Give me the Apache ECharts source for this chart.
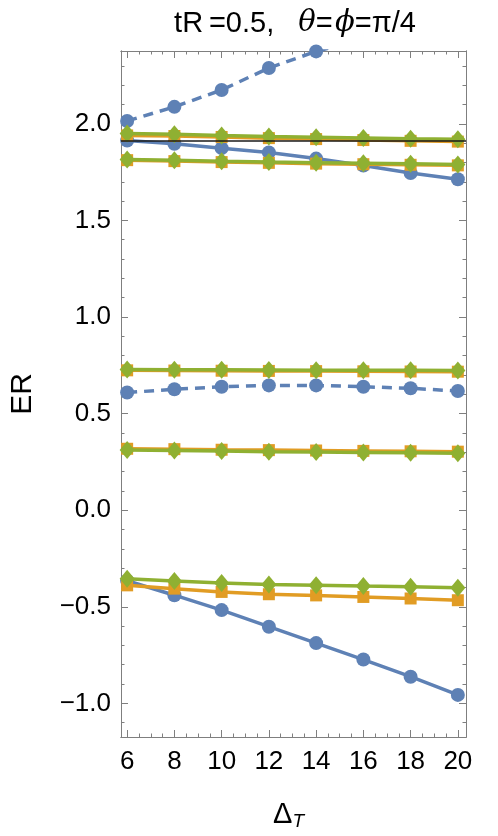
<!DOCTYPE html>
<html>
<head>
<meta charset="utf-8">
<script src="https://cdn.jsdelivr.net/npm/echarts@6/dist/echarts.min.js"></script>
<style>
html,body{margin:0;padding:0;background:#fff;}
#chart{width:498px;height:836px;}
</style>
</head>
<body>
<div id="chart"></div>
<script>
// ---- data ----
const deltaT = [6, 8, 10, 12, 14, 16, 18, 20];

const blueDashedTop   = [2.015, 2.088, 2.175, 2.289, 2.375, 2.44, 2.50, 2.57];
const blueSolidUpper  = [1.914, 1.897, 1.874, 1.852, 1.820, 1.784, 1.745, 1.713];
const blueDashedMid   = [0.609, 0.626, 0.639, 0.646, 0.646, 0.639, 0.631, 0.617];
const blueSolidLower  = [-0.365, -0.440, -0.517, -0.603, -0.688, -0.773, -0.862, -0.956];

const orangeTop       = [1.940, 1.937, 1.932, 1.926, 1.921, 1.916, 1.912, 1.908];
const orangeUpper     = [1.812, 1.807, 1.802, 1.798, 1.794, 1.791, 1.788, 1.785];
const orangeMidHigh   = [0.724, 0.723, 0.722, 0.721, 0.720, 0.719, 0.718, 0.717];
const orangeMidLow    = [0.318, 0.316, 0.313, 0.311, 0.309, 0.307, 0.305, 0.303];
const orangeLower     = [-0.389, -0.406, -0.423, -0.435, -0.441, -0.449, -0.457, -0.466];

const greenTop        = [1.950, 1.946, 1.940, 1.935, 1.931, 1.927, 1.923, 1.920];
const greenUpper      = [1.815, 1.811, 1.806, 1.802, 1.799, 1.796, 1.793, 1.790];
const greenMidHigh    = [0.728, 0.727, 0.727, 0.726, 0.725, 0.724, 0.724, 0.723];
const greenMidLow     = [0.312, 0.309, 0.306, 0.303, 0.301, 0.299, 0.297, 0.295];
const greenLower      = [-0.355, -0.367, -0.377, -0.385, -0.389, -0.393, -0.396, -0.401];

const referenceLevel  = 1.905;

const xTickLabels     = [6, 8, 10, 12, 14, 16, 18, 20];
const xMinorTicks     = [6.5, 7, 7.5, 8.5, 9, 9.5, 10.5, 11, 11.5, 12.5, 13, 13.5, 14.5, 15, 15.5, 16.5, 17, 17.5, 18.5, 19, 19.5];
const yTickLabels     = [-1.0, -0.5, 0.0, 0.5, 1.0, 1.5, 2.0];
const yMinorTicks     = [-1.1, -0.9, -0.8, -0.7, -0.6, -0.4, -0.3, -0.2, -0.1,
                         0.1, 0.2, 0.3, 0.4, 0.6, 0.7, 0.8, 0.9,
                         1.1, 1.2, 1.3, 1.4, 1.6, 1.7, 1.8, 1.9, 2.1, 2.2, 2.3];

// ---- style ----
const BLUE = '#5E81B5', ORANGE = '#E19C24', GREEN = '#8FB032';
const FRAME = '#7f7f7f';
const FONT = '"Liberation Sans", Arial, sans-serif';
const X_MIN = 5.74, X_MAX = 20.345, Y_MIN = -1.174, Y_MAX = 2.377;

function pairs(ys) { return deltaT.map((x, i) => [x, ys[i]]); }

function mk(data, color, symbol, size, z, dashed) {
  return {
    type: 'line',
    data: pairs(data),
    z: z,
    symbol: symbol,
    symbolSize: size,
    showAllSymbol: true,
    clip: true,
    itemStyle: { color: color },
    lineStyle: { color: color, width: 3.5, type: dashed ? [10, 7] : 'solid' },
    emphasis: { disabled: true },
    animation: false
  };
}

function yFmt(v) {
  return (v < 0 ? '\u2212' : '') + Math.abs(v).toFixed(1);
}

function xAx(pos, ticks, len, labels) {
  return {
    type: 'value', position: pos, min: X_MIN, max: X_MAX,
    axisLine: { show: true, onZero: false, lineStyle: { color: FRAME, width: 1 } },
    axisTick: { show: true, inside: true, length: len, customValues: ticks, lineStyle: { color: FRAME, width: 1 } },
    axisLabel: labels ? { show: true, customValues: ticks, formatter: v => String(v), color: '#000', fontSize: 26, fontFamily: FONT, margin: 12 } : { show: false },
    splitLine: { show: false }
  };
}
function yAx(pos, ticks, len, labels) {
  return {
    type: 'value', position: pos, min: Y_MIN, max: Y_MAX,
    axisLine: { show: true, onZero: false, lineStyle: { color: FRAME, width: 1 } },
    axisTick: { show: true, inside: true, length: len, customValues: ticks, lineStyle: { color: FRAME, width: 1 } },
    axisLabel: labels ? { show: true, customValues: ticks, formatter: yFmt, color: '#000', fontSize: 26, fontFamily: FONT, margin: 10 } : { show: false },
    splitLine: { show: false }
  };
}

const xAxes = [xAx('bottom', xTickLabels, 7, true), xAx('bottom', xMinorTicks, 3.5, false),
               xAx('top', xTickLabels, 7, false), xAx('top', xMinorTicks, 3.5, false)];
xAxes[0].name = '{d|\u0394}{t|T}';
xAxes[0].nameLocation = 'middle';
xAxes[0].nameGap = 61;
xAxes[0].nameTextStyle = {
  rich: {
    d: { fontSize: 29, fontFamily: FONT, color: '#000' },
    t: { fontSize: 19, fontFamily: FONT, fontStyle: 'italic', color: '#000', padding: [14, 10, 0, 0] }
  }
};
const yAxes = [yAx('left', yTickLabels, 7, true), yAx('left', yMinorTicks, 3.5, false),
               yAx('right', yTickLabels, 7, false), yAx('right', yMinorTicks, 3.5, false)];
yAxes[0].name = 'ER';
yAxes[0].nameLocation = 'middle';
yAxes[0].nameGap = 83;
yAxes[0].nameTextStyle = { fontSize: 30, fontFamily: FONT, color: '#000' };

const diamond = 'diamond';
const DS = [15, 18];
const series = [
  mk(blueDashedTop, BLUE, 'circle', 14, 2, true),
  mk(blueSolidUpper, BLUE, 'circle', 14, 2, false),
  mk(blueDashedMid, BLUE, 'circle', 14, 2, true),
  mk(blueSolidLower, BLUE, 'circle', 14, 2, false),
  mk(orangeTop, ORANGE, 'rect', 12, 3, false),
  mk(orangeUpper, ORANGE, 'rect', 12, 3, false),
  mk(orangeMidHigh, ORANGE, 'rect', 12, 3, false),
  mk(orangeMidLow, ORANGE, 'rect', 12, 3, false),
  mk(orangeLower, ORANGE, 'rect', 12, 3, false),
  mk(greenTop, GREEN, diamond, DS, 4, false),
  mk(greenUpper, GREEN, diamond, DS, 4, false),
  mk(greenMidHigh, GREEN, diamond, DS, 4, false),
  mk(greenMidLow, GREEN, diamond, DS, 4, false),
  mk(greenLower, GREEN, diamond, DS, 4, false),
  {
    type: 'line', data: [], z: 6, animation: false,
    markLine: {
      silent: true, symbol: ['none', 'none'], animation: false,
      label: { show: false },
      lineStyle: { color: '#1a1a1a', width: 1.5, type: 'solid' },
      data: [{ yAxis: referenceLevel }]
    }
  }
];

const chart = echarts.init(document.getElementById('chart'), null, { renderer: 'canvas' });
chart.setOption({
  animation: false,
  backgroundColor: '#fff',
  title: {
    text: 'tR\u2009=0.5,{g| }{i|\u03B8}=\u200A{i|\u03D5}=\u03C0/4',
    left: 290, top: 4, textAlign: 'center',
    textStyle: {
      fontSize: 29, fontFamily: FONT, color: '#000', fontWeight: 'normal',
      rich: {
        i: { fontSize: 29, fontFamily: '"DejaVu Serif", serif', fontStyle: 'italic', color: '#000' },
        g: { fontSize: 29, width: 24 }
      }
    }
  },
  grid: { left: 118, right: 32, top: 51, bottom: 91 },
  xAxis: xAxes,
  yAxis: yAxes,
  series: series
});
</script>
</body>
</html>
